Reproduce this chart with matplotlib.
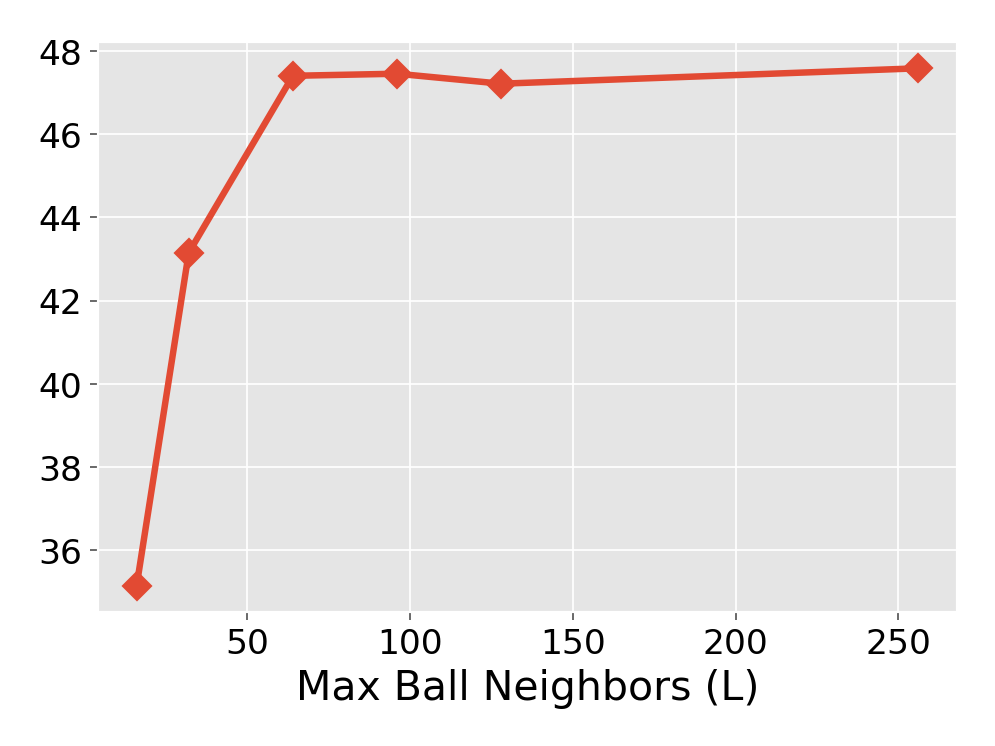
import matplotlib
matplotlib.use("Agg")
import matplotlib.pyplot as plt

neighbors = [16, 32, 64, 96, 128, 256]
scores = [35.15, 43.15, 47.40, 47.45, 47.21, 47.58]

plt.style.use('ggplot')

fig = plt.figure(figsize=(6.4, 4.8), dpi=155.6)
ax = fig.add_subplot(111)
ax.plot(neighbors, scores, marker='D', color='#E24A33', lw=3, markersize=9)
ax.set_xlabel('Max Ball Neighbors (L)', fontsize=19, color='black')
ax.tick_params(axis='both', labelsize=16, labelcolor='black')
ax.set_yticks([36, 38, 40, 42, 44, 46, 48])
ax.set_xticks([50, 100, 150, 200, 250])
fig.subplots_adjust(left=0.098, right=0.961, top=0.942, bottom=0.18)
fig.savefig('out.png', dpi=155.6)
